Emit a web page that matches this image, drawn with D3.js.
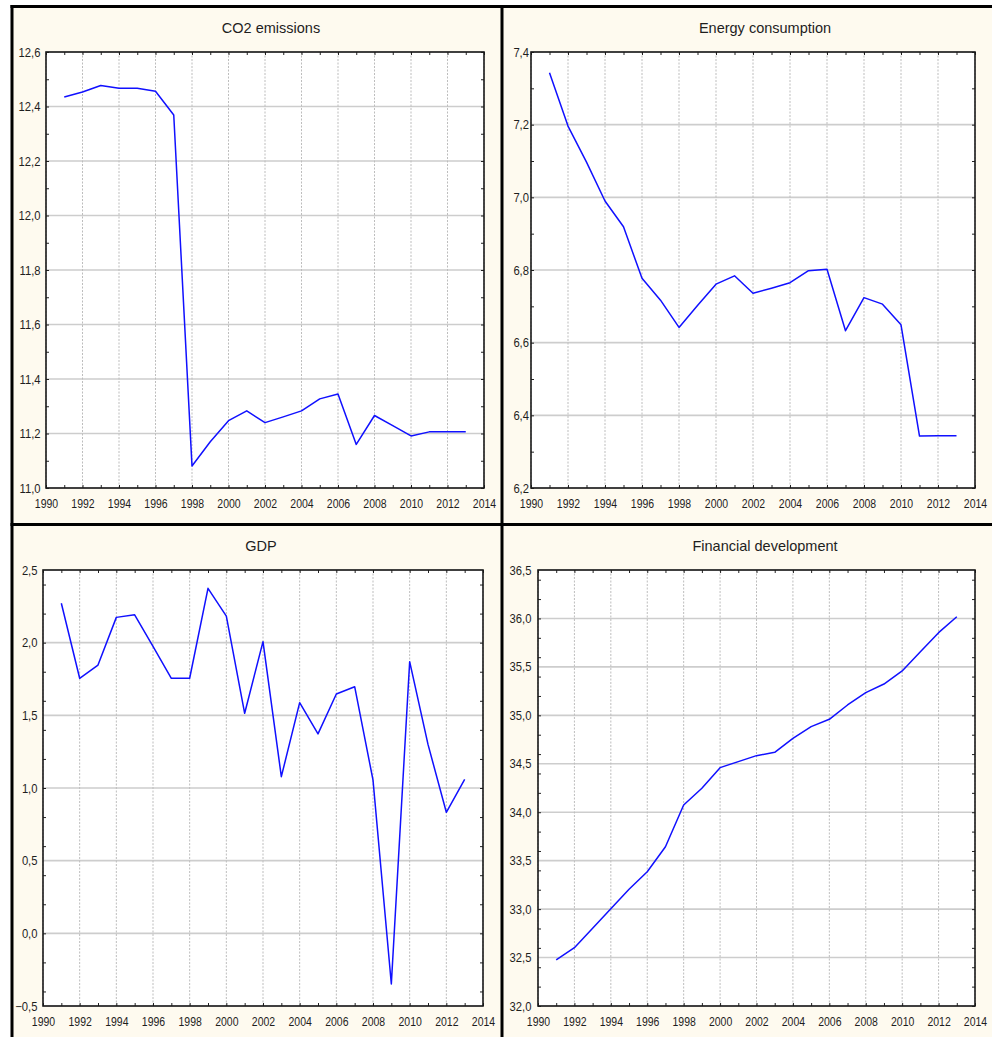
<!DOCTYPE html>
<html>
<head>
<meta charset="utf-8">
<script src="https://cdn.jsdelivr.net/npm/d3@7/dist/d3.min.js"></script>
<style>
  html, body { margin: 0; padding: 0; background: #ffffff; }
  svg { display: block; font-family: "Liberation Sans", Arial, sans-serif; }
</style>
</head>
<body>
<svg id="chart" width="992" height="1037"></svg>
<script>
// ---------------- DATA ----------------
const years = [1991, 1992, 1993, 1994, 1995, 1996, 1997, 1998, 1999, 2000, 2001, 2002,
               2003, 2004, 2005, 2006, 2007, 2008, 2009, 2010, 2011, 2012, 2013];

const co2Values = [12.435, 12.453, 12.477, 12.467, 12.467, 12.456, 12.369, 11.081, 11.170, 11.247,
                   11.283, 11.240, 11.261, 11.283, 11.327, 11.345, 11.160, 11.266, 11.229, 11.191,
                   11.206, 11.206, 11.206];

const energyValues = [7.343, 7.196, 7.097, 6.990, 6.919, 6.777, 6.717, 6.642, 6.702, 6.761,
                      6.784, 6.736, 6.750, 6.765, 6.798, 6.802, 6.633, 6.724, 6.706, 6.649,
                      6.343, 6.344, 6.344];

const gdpValues = [2.271, 1.755, 1.846, 2.174, 2.192, 1.975, 1.755, 1.755, 2.374, 2.183,
                   1.514, 2.007, 1.078, 1.587, 1.372, 1.647, 1.697, 1.055, -0.349, 1.869,
                   1.300, 0.833, 1.060];

const finValues = [32.475, 32.602, 32.802, 33.004, 33.205, 33.386, 33.644, 34.075, 34.247, 34.460,
                   34.522, 34.584, 34.618, 34.763, 34.883, 34.959, 35.107, 35.234, 35.323, 35.458,
                   35.657, 35.853, 36.018];

const xTickLabels = [1990, 1992, 1994, 1996, 1998, 2000, 2002, 2004, 2006, 2008, 2010, 2012, 2014];

const co2Ticks = [11.0, 11.2, 11.4, 11.6, 11.8, 12.0, 12.2, 12.4, 12.6];
const energyTicks = [6.2, 6.4, 6.6, 6.8, 7.0, 7.2, 7.4];
const gdpTicks = [-0.5, 0.0, 0.5, 1.0, 1.5, 2.0, 2.5];
const finTicks = [32.0, 32.5, 33.0, 33.5, 34.0, 34.5, 35.0, 35.5, 36.0, 36.5];

const titles = ["CO2 emissions", "Energy consumption", "GDP", "Financial development"];

// ---------------- LAYOUT ----------------
const panels = [
  { title: titles[0], values: co2Values, ticks: co2Ticks,
    x0: 46, x1: 484, y0: 52, y1: 488, titleX: 271, titleY: 33, labelRight: 40.5 },
  { title: titles[1], values: energyValues, ticks: energyTicks,
    x0: 531, x1: 975, y0: 52, y1: 488, titleX: 765, titleY: 33, labelRight: 529 },
  { title: titles[2], values: gdpValues, ticks: gdpTicks,
    x0: 43, x1: 483, y0: 570, y1: 1006, titleX: 261, titleY: 551, labelRight: 37.5 },
  { title: titles[3], values: finValues, ticks: finTicks,
    x0: 538, x1: 975, y0: 570, y1: 1006, titleX: 765, titleY: 551, labelRight: 531.5 }
];

const svg = d3.select("#chart");
const cream = "#fefaef";
const textColor = "#1e1e1e";

// Background
svg.append("rect").attr("x", 12).attr("y", 6).attr("width", 980).attr("height", 1031).attr("fill", cream);

const fmt = d => d3.format(".1f")(d).replace(".", ",").replace("-", "-");

panels.forEach(p => {
  const x = d3.scaleLinear().domain([xTickLabels[0], xTickLabels[xTickLabels.length - 1]]).range([p.x0, p.x1]);
  const y = d3.scaleLinear().domain([p.ticks[0], p.ticks[p.ticks.length - 1]]).range([p.y1, p.y0]);
  const g = svg.append("g");

  // Title
  g.append("text")
    .attr("x", p.titleX).attr("y", p.titleY)
    .attr("text-anchor", "middle")
    .attr("font-size", "14.5px")
    .attr("fill", textColor)
    .text(p.title);

  // Plot area
  g.append("rect")
    .attr("x", p.x0).attr("y", p.y0)
    .attr("width", p.x1 - p.x0).attr("height", p.y1 - p.y0)
    .attr("fill", "#ffffff");

  // Horizontal grid lines
  g.append("g").selectAll("line").data(p.ticks).join("line")
    .attr("x1", p.x0).attr("x2", p.x1)
    .attr("y1", d => y(d)).attr("y2", d => y(d))
    .attr("stroke", "#cdcdcd").attr("stroke-width", 1.6);

  // Vertical grid lines
  g.append("g").selectAll("line").data(xTickLabels).join("line")
    .attr("x1", d => x(d)).attr("x2", d => x(d))
    .attr("y1", p.y0).attr("y2", p.y1)
    .attr("stroke", "#bdbdbd").attr("stroke-width", 1)
    .attr("stroke-dasharray", "2,1.5");

  // Minor ticks (every year, every half step)
  const yStep = p.ticks[1] - p.ticks[0];
  const yMinor = y.ticks((p.ticks.length - 1) * 2);
  const xMinor = x.ticks(24);

  const axB = g.append("g").attr("transform", `translate(0,${p.y1})`)
    .call(d3.axisBottom(x).tickValues(xMinor).tickSize(-3).tickFormat(""));
  const axT = g.append("g").attr("transform", `translate(0,${p.y0})`)
    .call(d3.axisTop(x).tickValues(xMinor).tickSize(-3).tickFormat(""));
  const axL = g.append("g").attr("transform", `translate(${p.x0},0)`)
    .call(d3.axisLeft(y).tickValues(yMinor).tickSize(-3).tickFormat(""));
  const axR = g.append("g").attr("transform", `translate(${p.x1},0)`)
    .call(d3.axisRight(y).tickValues(yMinor).tickSize(-3).tickFormat(""));
  [axB, axT, axL, axR].forEach(a => {
    a.select(".domain").remove();
    a.selectAll("line").attr("stroke", "#222").attr("stroke-width", 1);
  });

  // Labeled axes
  const xAxis = g.append("g").attr("transform", `translate(0,${p.y1})`)
    .call(d3.axisBottom(x).tickValues(xTickLabels).tickSize(0).tickPadding(11).tickFormat(d3.format("d")));
  xAxis.select(".domain").remove();
  xAxis.selectAll("text")
    .attr("font-size", "12.5px").attr("fill", textColor)
    .attr("font-family", "'Liberation Sans', Arial, sans-serif")
    .attr("transform", "scale(0.84,1)");

  const yAxis = g.append("g").attr("transform", `translate(${p.x0},0)`)
    .call(d3.axisLeft(y).tickValues(p.ticks).tickSize(0).tickFormat(fmt));
  yAxis.select(".domain").remove();
  yAxis.selectAll("text")
    .attr("x", 0)
    .attr("font-size", "12.5px").attr("fill", textColor)
    .attr("font-family", "'Liberation Sans', Arial, sans-serif")
    .attr("transform", `translate(${p.labelRight - p.x0},0) scale(0.9,1)`);

  // Data line
  const line = d3.line().x((d, i) => x(years[i])).y(d => y(d));
  g.append("path")
    .datum(p.values)
    .attr("d", line)
    .attr("fill", "none")
    .attr("stroke", "#1010ff")
    .attr("stroke-width", 1.5)
    .attr("stroke-linejoin", "round");

  // Plot border
  g.append("rect")
    .attr("x", p.x0).attr("y", p.y0)
    .attr("width", p.x1 - p.x0).attr("height", p.y1 - p.y0)
    .attr("fill", "none")
    .attr("stroke", "#1a1a1a").attr("stroke-width", 1.6);
});

// Panel frame lines
const frame = svg.append("g").attr("stroke", "#000").attr("stroke-width", 3);
frame.append("line").attr("x1", 10.5).attr("x2", 992).attr("y1", 6.5).attr("y2", 6.5);
frame.append("line").attr("x1", 12).attr("x2", 12).attr("y1", 5).attr("y2", 1037);
frame.append("line").attr("x1", 502).attr("x2", 502).attr("y1", 5).attr("y2", 1037);
frame.append("line").attr("x1", 10.5).attr("x2", 992).attr("y1", 524.5).attr("y2", 524.5);
</script>
</body>
</html>
